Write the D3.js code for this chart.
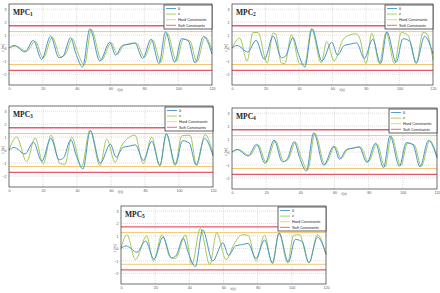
<!DOCTYPE html>
<html>
<head>
<meta charset="utf-8">
<script src="https://d3js.org/d3.v7.min.js"></script>
<style>
  body { margin: 0; background: #fff; }
  svg text { font-family: "Liberation Sans", Arial, sans-serif; }
</style>
</head>
<body>
<script>
var xTicks = [0, 20, 40, 60, 80, 100, 120];
var yTicks = [-2, -1, 0, 1, 2, 3];
var hardLimits = [1.27, -1.27];
var softLimits = [1.72, -1.72];
var legendNames = ["θ", "z", "Hard Constraints", "Soft Constraints"];

// reference signal, same in every panel
var thetaT = [0, 3, 9.4, 14.4, 19.3, 24.6, 29.5, 32, 36.4, 39.5, 43.5, 47.8, 53.7, 59.6, 63, 67, 70.5, 74.4, 79, 84, 88.7, 92.5, 98, 102, 106, 110, 115, 120];
var thetaV = [0, 0.2, -0.3, 0.6, -0.87, 0.92, -0.75, -0.62, 0.8, -0.4, -1.46, 1.49, -1.0, 0.45, -0.55, 0.2, 0.3, 0.4, -0.8, 0.68, -1.2, 1.25, -1.1, 0.72, 0.55, -1.15, 0.9, -0.45];

// controller outputs
var z1T = [0, 4, 10.4, 15.4, 20.3, 25.6, 30.5, 33, 37.4, 40.5, 44.5, 48.7, 54.7, 60.5, 64, 68, 71.5, 75.4, 80, 85, 89.7, 93.5, 99, 103, 107, 111, 116, 120];
var z1V = [0, 0.15, -0.25, 0.52, -0.78, 0.85, -0.68, -0.55, 0.72, -0.3, -1.32, 1.4, -0.92, 0.42, -0.48, 0.22, 0.3, 0.38, -0.72, 0.62, -1.1, 1.15, -1.0, 0.68, 0.55, -1.05, 0.85, -0.15];

var z2T = [0, 4.6, 9, 12.5, 15.5, 21, 24.5, 26, 29.5, 31.5, 35.5, 40.4, 43.4, 47.4, 53.3, 56.5, 61, 66, 70, 74, 76, 80, 83.5, 88, 92, 97, 101, 105, 110, 114, 116, 120];
var z2V = [0, 0.77, -1.0, 1.2, 1.2, -1.15, 1.15, 1.1, -1.15, -1.2, 1.02, -1.22, -1.25, 1.48, -1.15, 0.5, -1.0, 0.6, 1.0, 1.1, 0.85, -1.2, 1.15, -1.2, 1.22, -1.2, 1.2, 1.0, -1.2, 1.2, 1.15, -0.9];

var z3T = [0, 4.5, 10.4, 15.3, 20.2, 24.7, 30, 32.9, 36.9, 42.7, 47.6, 53.5, 57.5, 62.4, 66.3, 74.1, 79, 83.9, 88.8, 92.7, 97.6, 101.6, 106.5, 110.4, 115.3, 120];
var z3V = [0, 1.0, -0.9, 0.95, -1.05, 1.15, -1.05, -1.1, 1.0, -1.3, 1.55, -1.2, 0.85, -0.95, 0.35, 1.15, -1.05, 1.0, -1.2, 1.25, -1.2, 1.1, 1.15, -1.2, 1.2, -0.3];

var z4T = [0, 3.8, 10.2, 15.2, 20.1, 25.4, 30.3, 32.8, 37.2, 40.3, 44.3, 48.5, 54.5, 60.3, 63.8, 67.8, 71.3, 75.2, 79.8, 84.8, 89.5, 93.3, 98.8, 102.8, 106.8, 110.8, 115.8, 120];
var z4V = [0, 0.18, -0.28, 0.56, -0.82, 0.88, -0.72, -0.58, 0.76, -0.35, -1.38, 1.44, -0.96, 0.44, -0.5, 0.22, 0.3, 0.4, -0.76, 0.65, -1.15, 1.2, -1.05, 0.7, 0.55, -1.1, 0.88, -0.3];

var z5T = [0, 3.5, 8.4, 15, 19, 24, 29, 32, 37.7, 41.5, 46.4, 52, 56, 61.5, 66, 71, 74.5, 79, 84, 88.5, 92.5, 97.5, 101, 104.5, 110, 115, 120];
var z5V = [0, 1.1, -0.9, 1.0, -1.0, 1.1, -0.75, -0.8, 1.1, -1.3, 1.6, -1.3, 1.25, -0.9, 0.3, 1.1, 1.05, -1.0, 1.05, -1.15, 1.2, -1.15, 1.05, 1.1, -1.15, 1.1, -0.5];

var colors = { theta: "#4596ca", z: "#a6c858", hard: "#f3c873", soft: "#e65a6c" };

var panels = [
  { sub: "1", left: 9,   top: 4,   w: 203, h: 81, zt: z1T, zv: z1V },
  { sub: "2", left: 232, top: 4,   w: 201, h: 81, zt: z2T, zv: z2V },
  { sub: "3", left: 9,   top: 106, w: 204, h: 81, zt: z3T, zv: z3V },
  { sub: "4", left: 232, top: 108, w: 205, h: 81, zt: z4T, zv: z4V },
  { sub: "5", left: 121, top: 206, w: 205, h: 78, zt: z5T, zv: z5V }
];

var svg = d3.select("body").append("svg")
    .attr("width", 440)
    .attr("height", 293);

function pts(ts, vs) {
  return ts.map(function(t, i) { return [t, vs[i]]; });
}

panels.forEach(function(p) {
  var x = d3.scaleLinear().domain([0, 120]).range([0, p.w]);
  var y = d3.scaleLinear().domain([-2.85, 3.4]).range([p.h, 0]);

  var g = svg.append("g").attr("transform", "translate(" + p.left + "," + p.top + ")");

  // grid
  g.append("g").selectAll("line").data(xTicks.slice(1, -1)).enter().append("line")
      .attr("x1", function(d) { return x(d); }).attr("x2", function(d) { return x(d); })
      .attr("y1", 0).attr("y2", p.h)
      .attr("stroke", "#bbb").attr("stroke-width", 0.5).attr("stroke-dasharray", "1,1");
  g.append("g").selectAll("line").data(yTicks).enter().append("line")
      .attr("y1", function(d) { return y(d); }).attr("y2", function(d) { return y(d); })
      .attr("x1", 0).attr("x2", p.w)
      .attr("stroke", "#bbb").attr("stroke-width", 0.5).attr("stroke-dasharray", "1,1");

  // constraints
  softLimits.forEach(function(v) {
    g.append("line").attr("x1", 0).attr("x2", p.w).attr("y1", y(v)).attr("y2", y(v))
        .attr("stroke", colors.soft).attr("stroke-width", 1.3);
  });
  hardLimits.forEach(function(v) {
    g.append("line").attr("x1", 0).attr("x2", p.w).attr("y1", y(v)).attr("y2", y(v))
        .attr("stroke", colors.hard).attr("stroke-width", 1);
  });

  var line = d3.line()
      .x(function(d) { return x(d[0]); })
      .y(function(d) { return y(d[1]); })
      .curve(d3.curveMonotoneX);

  g.append("path").attr("d", line(pts(p.zt, p.zv)))
      .attr("fill", "none").attr("stroke", colors.z).attr("stroke-width", 1);
  g.append("path").attr("d", line(pts(thetaT, thetaV)))
      .attr("fill", "none").attr("stroke", colors.theta).attr("stroke-width", 1);

  // axes
  var xAxis = d3.axisBottom(x).tickValues(xTicks).tickSize(0).tickPadding(2.5)
      .tickFormat(d3.format("d"));
  var yAxis = d3.axisLeft(y).tickValues(yTicks).tickSize(0).tickPadding(2.5)
      .tickFormat(d3.format("d"));
  var gx = g.append("g").attr("transform", "translate(0," + p.h + ")").call(xAxis);
  var gy = g.append("g").call(yAxis);
  [gx, gy].forEach(function(a) {
    a.select(".domain").remove();
    a.selectAll("text").attr("font-size", 3.6).attr("fill", "#555")
        .style("font-family", "'Liberation Sans', Arial, sans-serif");
  });

  g.append("rect").attr("width", p.w).attr("height", p.h)
      .attr("fill", "none").attr("stroke", "#333").attr("stroke-width", 0.7);

  // labels
  g.append("text").attr("x", x(60) + 7).attr("y", p.h + 5.5)
      .attr("font-size", 3.6).attr("fill", "#555").text("t(s)");
  g.append("text").attr("transform", "translate(-5," + y(0) + ") rotate(-90)")
      .attr("text-anchor", "middle").attr("font-size", 3.6).attr("fill", "#555").text("z [m]");

  var title = g.append("text").attr("x", 4).attr("y", 10.5)
      .attr("font-size", 7.5).attr("font-weight", "bold").attr("fill", "#222")
      .style("font-family", "'Liberation Serif', 'DejaVu Serif', serif");
  title.append("tspan").text("MPC");
  title.append("tspan").attr("font-size", 5.5).attr("dy", 1.8).text(p.sub);

  // legend
  var lw = 48, lh = 24;
  var lg = g.append("g").attr("transform", "translate(" + (p.w - lw) + ",1)");
  lg.append("rect").attr("width", lw).attr("height", lh)
      .attr("fill", "#fff").attr("stroke", "#222").attr("stroke-width", 0.7);
  var lcol = [colors.theta, colors.z, colors.hard, colors.soft];
  legendNames.forEach(function(name, i) {
    var yy = 3.5 + i * 5.6;
    lg.append("line").attr("x1", 2).attr("x2", 12).attr("y1", yy).attr("y2", yy)
        .attr("stroke", lcol[i]).attr("stroke-width", 0.9);
    lg.append("text").attr("x", 14).attr("y", yy + 1.3)
        .attr("font-size", 3.8).attr("fill", "#222").text(name);
  });
});
</script>
</body>
</html>
